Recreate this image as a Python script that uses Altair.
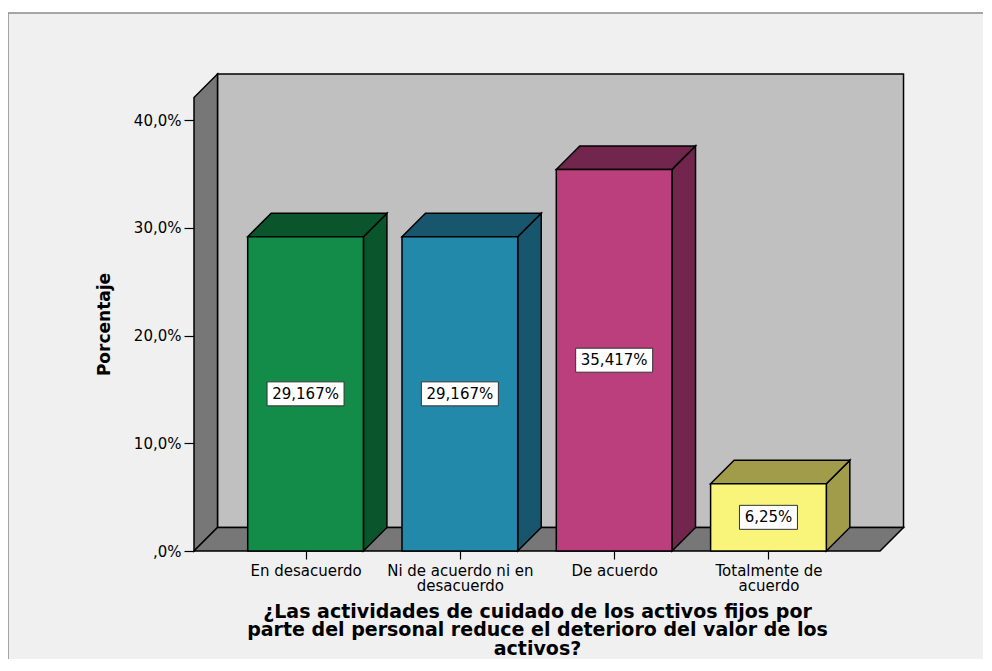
import json
import textwrap

import altair as alt
import pandas as pd

# ---------------- data ----------------
categories = [
    "En desacuerdo",
    "Ni de acuerdo ni en desacuerdo",
    "De acuerdo",
    "Totalmente de acuerdo",
]
percentages = [29.167, 29.167, 35.417, 6.25]
value_labels = ["29,167%", "29,167%", "35,417%", "6,25%"]
y_ticks = [0, 10, 20, 30, 40]
x_title_lines = [
    "¿Las actividades de cuidado de los activos  fijos por",
    "parte del personal reduce el deterioro del valor de los",
    "activos?",
]
y_title = "Porcentaje"

# ---------------- styles ----------------
front_colors = ["#128c48", "#2389ab", "#bb3e7d", "#f9f57a"]
shade_colors = ["#0a552c", "#18566d", "#72264d", "#a09c4a"]
BACK_WALL = "#c0c0c0"
SIDE_WALL = "#777777"
FRAME_BG = "#f0f0f0"
FONT = "DejaVu Sans"

# ---------------- geometry ----------------
PX_PER_CAT = 154.3
PX_PER_PCT = 10.775
DEPTH_PX = 23.5
PLOT_W, PLOT_H = 709, 477
PAD = {"left": 186, "top": 66, "right": 80, "bottom": 108}
BAR_FRAC = 0.75
FLOOR_HALF = 2.223

ddx = DEPTH_PX / PX_PER_CAT
ddy = DEPTH_PX / PX_PER_PCT
positions = list(range(1, len(categories) + 1))
mid = (positions[0] + positions[-1]) / 2
x_lo, x_hi = mid - FLOOR_HALF, mid + FLOOR_HALF
x_domain = [x_lo, x_lo + PLOT_W / PX_PER_CAT]
y_max = PLOT_H / PX_PER_PCT
y_domain = [0, y_max]

xs = alt.Scale(domain=x_domain, nice=False, zero=False)
ys = alt.Scale(domain=y_domain, nice=False, zero=False)

wrapped = [textwrap.wrap(c, 19) for c in categories]
x_axis = alt.Axis(
    values=positions,
    labelExpr=json.dumps(wrapped, ensure_ascii=False) + "[round(datum.value) - 1]",
    domain=False, grid=False, zindex=1,
    tickSize=8, tickColor="black", tickWidth=1.2,
    labelFont=FONT, labelFontSize=15, labelColor="black",
    labelPadding=4, labelBaseline="top", labelLineHeight=15,
    labelFlush=False, labelOverlap=False,
    title=x_title_lines, titleFont=FONT, titleFontSize=19, titleFontWeight="bold",
    titleColor="black", titleX=343, titleY=66, titleAlign="center",
    titleBaseline="alphabetic", titleLineHeight=18.5, titleAngle=0,
)
y_axis = alt.Axis(
    values=y_ticks,
    labelExpr="datum.value == 0 ? ',0%' : replace(format(datum.value, '.1f'), '.', ',') + '%'",
    domain=False, grid=False, zindex=1,
    tickSize=10, tickColor="black", tickWidth=1.2,
    labelFont=FONT, labelFontSize=15, labelColor="black",
    labelPadding=3, labelFlush=False, labelOverlap=False,
    title=y_title, titleFont=FONT, titleFontSize=17, titleFontWeight="bold",
    titleColor="black", titleAngle=270, titleX=-90, titleY=250,
    titleAlign="center", titleBaseline="middle",
)

# ---------------- polygon helpers ----------------
def polygon_rows(shape, pts, fill):
    return [dict(poly=shape, px=x, lo=lo, hi=hi, fc=fill)
            for (x, lo, hi) in pts]

decor_rows = []
decor_rows += polygon_rows("a_back", [(x_lo + ddx, ddy, y_max), (x_hi + ddx, ddy, y_max)], BACK_WALL)
decor_rows += polygon_rows("b_left", [(x_lo, 0, y_max - ddy), (x_lo + ddx, ddy, y_max)], SIDE_WALL)
decor_rows += polygon_rows("c_floor", [(x_lo, 0, 0), (x_lo + ddx, 0, ddy),
                                       (x_hi, 0, ddy), (x_hi + ddx, ddy, ddy)], SIDE_WALL)
decor_df = pd.DataFrame(decor_rows)

face_rows = []
bar_rows = []
for i, (c, v) in enumerate(zip(positions, percentages)):
    xl, xr = c - BAR_FRAC / 2, c + BAR_FRAC / 2
    face_rows += polygon_rows(f"side{i}", [(xr, 0, v), (xr + ddx, ddy, v + ddy)], shade_colors[i])
    face_rows += polygon_rows(f"top{i}", [(xl, v, v), (xl + ddx, v, v + ddy),
                                          (xr, v, v + ddy), (xr + ddx, v + ddy, v + ddy)],
                              shade_colors[i])
    lab = value_labels[i]
    hw = (10.5 + 9.5 * len(lab)) / 2 / PX_PER_CAT
    hh = 12 / PX_PER_PCT
    bar_rows.append(dict(cat=categories[i], c=c, xl=xl, xr=xr, zero=0, v=v,
                         mid=v / 2, front=front_colors[i], label=lab,
                         bx1=c - hw, bx2=c + hw, by1=v / 2 - hh, by2=v / 2 + hh))
face_df = pd.DataFrame(face_rows)
bar_df = pd.DataFrame(bar_rows)

# ---------------- layers ----------------
frame = alt.Chart(pd.DataFrame({"f": [0]})).mark_rect(
    fill=FRAME_BG, stroke="#8a8a8a", strokeWidth=1.5
).encode(
    x=alt.value(-186), x2=alt.value(PLOT_W + 200),
    y=alt.value(-61), y2=alt.value(PLOT_H + 200),
)

def area_layer(df):
    return alt.Chart(df).mark_area(stroke="black", strokeWidth=1.5, opacity=1,
                                   strokeJoin="miter", orient="vertical").encode(
        x=alt.X("px:Q", scale=xs, axis=x_axis),
        y=alt.Y("lo:Q", scale=ys, axis=y_axis, stack=None),
        y2="hi:Q",
        detail="poly:N",
        color=alt.Color("fc:N", scale=None),
    )

decor = area_layer(decor_df)
faces = area_layer(face_df)

fronts = alt.Chart(bar_df).mark_rect(stroke="black", strokeWidth=1.5).encode(
    x=alt.X("xl:Q", scale=xs, axis=x_axis), x2="xr:Q",
    y=alt.Y("zero:Q", scale=ys, axis=y_axis), y2="v:Q",
    color=alt.Color("front:N", scale=None),
)

boxes = alt.Chart(bar_df).mark_rect(fill="white", stroke="#333333", strokeWidth=1).encode(
    x=alt.X("bx1:Q", scale=xs, axis=x_axis), x2="bx2:Q",
    y=alt.Y("by1:Q", scale=ys, axis=y_axis), y2="by2:Q",
)

texts = alt.Chart(bar_df).mark_text(font=FONT, fontSize=15, color="black",
                                    align="center", baseline="middle").encode(
    x=alt.X("c:Q", scale=xs, axis=x_axis),
    y=alt.Y("mid:Q", scale=ys, axis=y_axis),
    text="label:N",
)

chart = alt.layer(frame, decor, faces, fronts, boxes, texts).properties(
    width=PLOT_W, height=PLOT_H,
    autosize=alt.AutoSizeParams(type="none"),
    padding=PAD,
    background="white",
).configure_view(stroke=None)

chart.save("out.html", embed_options={"renderer": "svg", "actions": False})
